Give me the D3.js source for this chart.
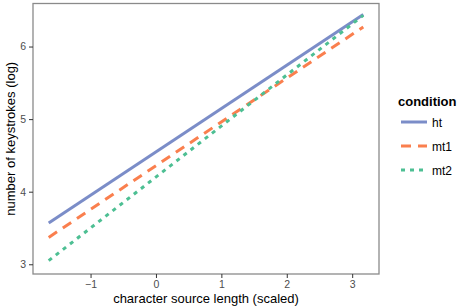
<!DOCTYPE html>
<html>
<head>
<meta charset="utf-8">
<script src="https://cdn.jsdelivr.net/npm/d3@7"></script>
<style>
  body { margin: 0; background: #fff; }
  text { font-family: "Liberation Sans", Arial, sans-serif; }
</style>
</head>
<body>
<div id="chart"></div>
<script>
// data
var conditions = ["ht", "mt1", "mt2"];
var xEnds = [-1.64, 3.17];
var htVals = [3.57, 6.44];
var mt1Vals = [3.37, 6.27];
var mt2Vals = [3.05, 6.43];
var xTicks = [-1, 0, 1, 2, 3];
var yTicks = [3, 4, 5, 6];

var width = 459, height = 308;
var colors = { ht: "#7b8dc8", mt1: "#fa7f4e", mt2: "#4dbf93" };
var dashes = { ht: null, mt1: "10,7", mt2: "4,5" };

var series = [
  { key: "ht", values: htVals },
  { key: "mt1", values: mt1Vals },
  { key: "mt2", values: mt2Vals }
];

var panel = { left: 33, right: 379, top: 3.5, bottom: 274 };

var x = d3.scaleLinear().domain([-1.88, 3.41]).range([panel.left, panel.right]);
var y = d3.scaleLinear().domain([2.866, 6.593]).range([panel.bottom, panel.top]);

var svg = d3.select("#chart").append("svg")
  .attr("width", width)
  .attr("height", height);

// lines
var line = d3.line()
  .x(function(d) { return x(d[0]); })
  .y(function(d) { return y(d[1]); });

svg.append("g").selectAll("path")
  .data(series)
  .enter().append("path")
  .attr("d", function(s) { return line(xEnds.map(function(v, i) { return [v, s.values[i]]; })); })
  .attr("fill", "none")
  .attr("stroke", function(s) { return colors[s.key]; })
  .attr("stroke-width", 3)
  .attr("stroke-dasharray", function(s) { return dashes[s.key]; });

// panel border
svg.append("rect")
  .attr("x", panel.left)
  .attr("y", panel.top)
  .attr("width", panel.right - panel.left)
  .attr("height", panel.bottom - panel.top)
  .attr("fill", "none")
  .attr("stroke", "#8a8a8a")
  .attr("stroke-width", 1.3);

// axes
var xAxis = svg.append("g")
  .attr("transform", "translate(0," + panel.bottom + ")")
  .call(d3.axisBottom(x).tickValues(xTicks).tickSize(4).tickPadding(3)
    .tickFormat(d3.format("d")));
var yAxis = svg.append("g")
  .attr("transform", "translate(" + panel.left + ",0)")
  .call(d3.axisLeft(y).tickValues(yTicks).tickSize(4).tickPadding(3)
    .tickFormat(d3.format("d")));

[xAxis, yAxis].forEach(function(a) {
  a.select(".domain").remove();
  a.selectAll(".tick line").attr("stroke", "#333").attr("stroke-width", 1);
  a.selectAll(".tick text").attr("fill", "#4d4d4d").style("font-size", "10.5px");
});

// axis titles
svg.append("text")
  .attr("x", (panel.left + panel.right) / 2)
  .attr("y", 303)
  .attr("text-anchor", "middle")
  .style("font-size", "13px")
  .attr("fill", "#000")
  .text("character source length (scaled)");

svg.append("text")
  .attr("transform", "translate(15," + ((panel.top + panel.bottom) / 2) + ") rotate(-90)")
  .attr("text-anchor", "middle")
  .style("font-size", "13px")
  .attr("fill", "#000")
  .text("number of keystrokes (log)");

// legend
var legend = svg.append("g");
legend.append("text")
  .attr("x", 398)
  .attr("y", 106)
  .style("font-size", "13px")
  .style("font-weight", "bold")
  .text("condition");

var rows = legend.selectAll("g.row")
  .data(conditions)
  .enter().append("g")
  .attr("class", "row")
  .attr("transform", function(d, i) { return "translate(0," + (122 + i * 24) + ")"; });

rows.append("line")
  .attr("x1", 401).attr("x2", 427)
  .attr("stroke", function(d) { return colors[d]; })
  .attr("stroke-width", 3)
  .attr("stroke-dasharray", function(d) { return dashes[d]; });

rows.append("text")
  .attr("x", 432)
  .attr("y", 4.5)
  .style("font-size", "12px")
  .text(function(d) { return d; });
</script>
</body>
</html>
